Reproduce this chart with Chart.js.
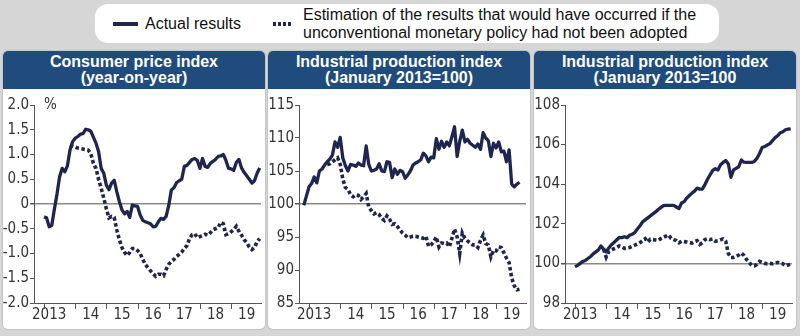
<!DOCTYPE html>
<html>
<head>
<meta charset="utf-8">
<script src="https://cdn.jsdelivr.net/npm/chart.js@4.4.1/dist/chart.umd.min.js"></script>
<style>
  body { margin: 0; width: 800px; height: 336px; background: #d6d6d6; position: relative; overflow: hidden;
         font-family: "Liberation Sans", Arial, sans-serif; }
  .legend { position: absolute; left: 95px; top: 4px; width: 624px; height: 39px; background: #fff; border-radius: 13px; }
  .legend .key { position: absolute; height: 4px; }
  .legend .solid { left: 18px; top: 18px; width: 25px; background: #1e2650; }
  .legend .dots { left: 178px; top: 18px; width: 18px;
                  background: repeating-linear-gradient(90deg, #1e2650 0 3px, transparent 3px 5px); }
  .legend .txt { position: absolute; font-size: 16px; line-height: 18px; color: #111; white-space: nowrap; }
  .panel { position: absolute; top: 51px; width: 262px; height: 278px; background: #fff; border-radius: 5px;
           overflow: hidden; box-shadow: 0 0 0 1px #c4c4c4; }
  .panel h2 { margin: 0; height: 38px; padding-top: 3px; box-sizing: border-box; background: #1f4b7d; color: #fff;
              font: bold 16px/16px "Liberation Sans", Arial, sans-serif; text-align: center; }
  .panel canvas { display: block; }
</style>
</head>
<body>
<div class="legend">
  <div class="key solid"></div>
  <div class="txt" style="left:50px; top:11px;">Actual results</div>
  <div class="key dots"></div>
  <div class="txt" style="left:208px; top:2px;">Estimation of the results that would have occurred if the<br>unconventional monetary policy had not been adopted</div>
</div>

<div class="panel" style="left:3px"><h2>Consumer price index<br>(year-on-year)</h2><canvas id="cpi" width="262" height="240"></canvas></div>
<div class="panel" style="left:268px"><h2>Industrial production index<br>(January 2013=100)</h2><canvas id="ip" width="262" height="240"></canvas></div>
<div class="panel" style="left:534px"><h2>Industrial production index<br>(January 2013=100</h2><canvas id="ip2" width="262" height="240"></canvas></div>

<script>
// months counted from January 2013 (0 = Jan 2013)
const yearLabels = ['2013', '14', '15', '16', '17', '18', '19'];
const labelMonths = [2, 18, 30, 42, 54, 66, 78];
const yearStarts = [0, 12, 24, 36, 48, 60, 72];

// consumer price index, y/y %, from Jan 2013
const cpiStart = 0;
const cpiActual = [
  -0.26, -0.28, -0.46, -0.43, -0.10, 0.20, 0.55, 0.72, 0.65, 0.77, 1.09, 1.26,
  1.33, 1.36, 1.41, 1.42, 1.51, 1.50, 1.47, 1.35, 1.23, 1.06, 0.72, 0.62,
  0.38, 0.29, 0.42, 0.48, 0.25, 0.05, -0.12, -0.20, -0.15, -0.27, -0.02, -0.04,
  -0.05, -0.22, -0.33, -0.36, -0.38, -0.40, -0.46, -0.45, -0.36, -0.29, -0.31, -0.25,
  -0.03, 0.28, 0.33, 0.43, 0.47, 0.50, 0.76, 0.78, 0.84, 0.90, 0.92, 0.88,
  0.72, 0.92, 0.76, 0.74, 0.82, 0.86, 0.90, 0.96, 0.97, 1.00, 0.88, 0.72,
  0.71, 0.68, 0.84, 0.90, 0.73, 0.64, 0.57, 0.50, 0.42, 0.47, 0.62, 0.73
];
const cpiEstimate = [
  null, null, null, null, null, null, null, null, null, null, 1.19, 1.17,
  1.15, 1.13, 1.12, 1.11, 1.10, 1.09, 1.02, 0.82, 0.72, 0.50, 0.32, 0.12,
  -0.10, -0.28, -0.25, -0.27, -0.52, -0.72, -0.88, -0.98, -1.04, -0.98, -0.90, -0.90,
  -0.94, -1.00, -1.12, -1.22, -1.29, -1.35, -1.41, -1.46, -1.42, -1.42, -1.45, -1.32,
  -1.22, -1.16, -1.12, -1.06, -1.02, -0.97, -0.90, -0.84, -0.70, -0.62, -0.60, -0.68,
  -0.66, -0.64, -0.61, -0.63, -0.58, -0.52, -0.50, -0.48, -0.37, -0.40, -0.62, -0.60,
  -0.56, -0.52, -0.45, -0.55, -0.63, -0.72, -0.78, -0.87, -0.92, -0.88, -0.76, -0.70
];

// industrial production index, from Nov 2012
const ipStart = -2;
const ipActual = [
  99.8, 101.2, 102.6, 103.1, 104.1, 103.2, 105.0, 105.3, 105.9, 106.4, 106.8, 107.4,
  109.4, 108.6, 110.1, 107.0, 105.8, 105.0, 106.0, 105.9, 105.7, 106.2, 105.9, 105.8,
  108.8, 106.0, 105.0, 105.1, 105.3, 106.1, 105.0, 104.9, 106.4, 106.3, 104.0, 105.3,
  104.5, 105.1, 104.9, 103.9, 104.4, 105.0, 105.9, 106.2, 106.4, 106.7, 107.7, 107.3,
  106.4, 107.1, 107.0, 109.9, 108.3, 109.5, 108.6, 109.4, 108.8, 110.2, 111.7, 107.2,
  109.5, 111.2, 109.4, 109.8, 109.2, 108.9, 108.6, 109.1, 108.3, 110.8, 110.0, 109.6,
  107.2, 109.2, 108.5, 109.4, 107.9, 108.0, 106.4, 108.2, 103.0, 102.6, 103.0, 103.3
];
const ipEstimate = [
  null, null, null, null, null, null, null, null, null,
  106.0, 106.1, 106.4, 106.7, 107.0, 106.0, 103.8, 102.5, 102.2, 101.4, 101.1, 101.4,
  101.3, 100.7, 101.1, 101.6, 99.5, 99.0, 98.5, 98.7, 98.4, 97.8, 97.5, 98.2,
  97.7, 96.9, 97.0, 96.6, 96.1, 95.6, 95.3, 94.9, 95.0, 95.1, 95.1, 95.0,
  94.9, 94.8, 95.1, 93.6, 93.8, 94.3, 95.0, 93.5, 94.1, 94.0, 94.1, 93.5,
  94.8, 96.2, 95.0, 92.5, 95.6, 94.8, 94.4, 94.1, 93.8, 93.8, 93.4, 94.5,
  95.3, 94.0, 93.8, 92.0, 93.0, 92.9, 93.5, 93.4, 92.6, 91.8, 91.1, 88.8,
  87.6, 87.0, 87.1
];

// third panel, from Jan 2013
const ip2Start = 0;
const ip2Actual = [
  99.83, 99.90, 100.00, 100.10, 100.15, 100.25, 100.35, 100.48, 100.58, 100.68, 100.88, 100.72,
  100.58, 100.78, 100.94, 101.06, 101.18, 101.31, 101.30, 101.35, 101.30, 101.42, 101.47, 101.56,
  101.74, 101.90, 102.10, 102.20, 102.30, 102.40, 102.50, 102.60, 102.72, 102.82, 102.92, 102.93,
  102.93, 102.93, 102.93, 102.85, 102.77, 103.05, 103.12, 103.30, 103.43, 103.55, 103.65, 103.80,
  103.75, 103.75, 103.98, 104.25, 104.48, 104.70, 104.78, 104.72, 104.98, 105.10, 105.20, 105.02,
  104.35, 104.72, 104.80, 104.88, 105.22, 105.11, 105.10, 105.10, 105.10, 105.15, 105.30, 105.55,
  105.85, 105.90, 105.98, 106.05, 106.20, 106.35, 106.45, 106.60, 106.65, 106.75, 106.78, 106.80
];
const ip2Estimate = [
  null, null, null, null, null, null, null, null, null, null, null,
  100.72, 100.32, 100.60, 100.68, 100.74, 100.80, 100.88, 100.84, 100.76, 100.78, 100.80, 100.86,
  100.92, 100.98, 101.05, 101.15, 101.25, 101.08, 101.22, 101.20, 101.18, 101.16, 101.25, 101.32,
  101.38, 101.44, 101.26, 101.20, 101.15, 101.04, 101.12, 101.10, 101.08, 101.05, 101.03, 101.10,
  101.15, 100.96, 101.05, 101.20, 101.25, 101.20, 101.23, 101.12, 101.15, 101.20, 101.23, 101.12,
  100.50, 100.30, 100.30, 100.35, 100.42, 100.52, 100.40, 100.20, 100.05, 99.90, 99.88, 99.95,
  100.10, 100.05, 100.00, 99.98, 100.00, 99.98, 100.00, 100.05, 100.00, 99.98, 99.88, 99.92, 99.96
];

const navy = '#1e2650';
const tickFont = { family: '"DejaVu Sans Condensed", "Liberation Sans Narrow", "Liberation Sans", sans-serif', size: 15 };

const toPoints = (start, values) => values.map((v, i) => ({ x: start + i, y: v }));

// year boundary tick marks under the x axis, plus an optional unit label
const yearTicks = {
  id: 'yearTicks',
  afterDraw(chart, args, opts) {
    const { ctx, chartArea, scales } = chart;
    ctx.save();
    ctx.strokeStyle = '#555';
    ctx.lineWidth = 1;
    yearStarts.forEach(m => {
      const x = Math.round(scales.x.getPixelForValue(m)) + 0.5;
      ctx.beginPath();
      ctx.moveTo(x, chartArea.bottom);
      ctx.lineTo(x, chartArea.bottom + 6);
      ctx.stroke();
    });
    if (opts.unit) {
      ctx.fillStyle = '#333';
      ctx.font = '15px ' + tickFont.family;
      ctx.textBaseline = 'middle';
      ctx.fillText(opts.unit, chartArea.left + 10, chartArea.top);
    }
    ctx.restore();
  }
};

function makeChart(id, start, actual, estimate, yMin, yMax, step, base, fmt, unit) {
  new Chart(document.getElementById(id), {
    type: 'line',
    data: {
      datasets: [
        { data: toPoints(start, actual), borderColor: navy, borderWidth: 3.3, pointRadius: 0,
          borderJoinStyle: 'round', tension: 0 },
        { data: toPoints(start, estimate), borderColor: navy, borderWidth: 3.6, borderDash: [3.5, 2.5],
          pointRadius: 0, tension: 0 }
      ]
    },
    options: {
      responsive: false,
      animation: false,
      devicePixelRatio: 1,
      layout: { padding: { top: 16, right: 4, left: 0, bottom: 0 } },
      plugins: { legend: { display: false }, tooltip: { enabled: false }, yearTicks: { unit } },
      scales: {
        x: {
          type: 'linear', min: -3.85, max: 83.5,
          afterBuildTicks: s => { s.ticks = labelMonths.map(v => ({ value: v })); },
          afterFit: s => { s.height = 26; },
          grid: { display: true, drawOnChartArea: false, tickLength: 3, tickColor: 'rgba(0,0,0,0)' },
          border: { color: '#555', width: 1 },
          ticks: { autoSkip: false, maxRotation: 0, padding: 0, color: '#333', font: tickFont,
                   callback: (v, i) => yearLabels[i] }
        },
        y: {
          min: yMin, max: yMax,
          afterFit: s => { s.width = 31; },
          grid: {
            drawOnChartArea: true, tickLength: 4, tickColor: '#555',
            color: c => c.tick && Math.abs(c.tick.value - base) < 1e-9 ? '#8a8a8a' : 'rgba(0,0,0,0)',
            lineWidth: c => c.tick && Math.abs(c.tick.value - base) < 1e-9 ? 1.5 : 1
          },
          border: { color: '#555', width: 1 },
          ticks: { stepSize: step, padding: 1, color: '#333', font: tickFont, callback: fmt }
        }
      }
    },
    plugins: [yearTicks]
  });
}

makeChart('cpi', cpiStart, cpiActual, cpiEstimate, -2, 2, 0.5, 0,
  v => (Math.abs(v) < 1e-9 ? '0' : v.toFixed(1)), '%');
makeChart('ip', ipStart, ipActual, ipEstimate, 85, 115, 5, 100, v => String(v), null);
makeChart('ip2', ip2Start, ip2Actual, ip2Estimate, 98, 108, 2, 100, v => String(v), null);
</script>
</body>
</html>
